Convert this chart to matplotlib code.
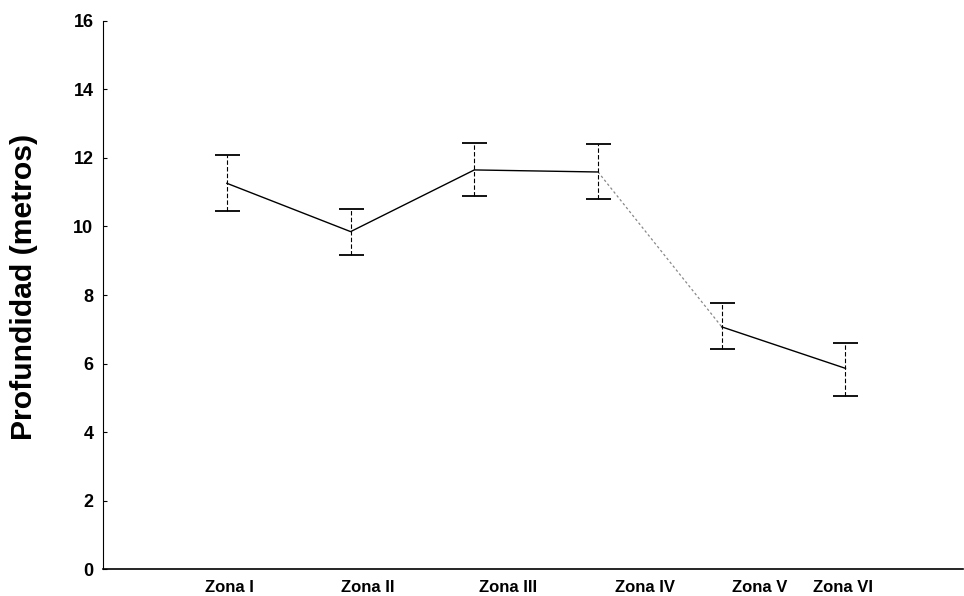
import matplotlib.pyplot as plt
import numpy as np

plt.rcParams['font.family'] = ['Liberation Sans', 'DejaVu Sans']

zonas = ['Zona I', 'Zona II', 'Zona III', 'Zona IV', 'Zona V', 'Zona VI']
media = [11.26, 9.85, 11.65, 11.59, 7.07, 5.86]
sup = [12.09, 10.50, 12.45, 12.41, 7.78, 6.59]
inf = [10.46, 9.16, 10.89, 10.80, 6.42, 5.05]

x = np.arange(len(zonas))
media = np.array(media)
err = [media - np.array(inf), np.array(sup) - media]

fig = plt.figure(figsize=(9.64, 5.96), dpi=100)
ax = fig.add_axes([0.107, 0.045, 0.892, 0.92])

# mean line; the IV -> V stretch is faint in print
ax.plot(x[:4], media[:4], color='black', lw=1.0)
ax.plot(x[3:5], media[3:5], color='#888888', lw=0.9, ls=(0, (2, 2)))
ax.plot(x[4:], media[4:], color='black', lw=1.0)

eb = ax.errorbar(x, media, yerr=err, fmt='none', ecolor='black',
                 elinewidth=0.8, capsize=9, capthick=1.3)
eb[2][0].set_linestyle((0, (4, 2)))

ax.set_xlim(-1.0, 5.95)
ax.set_ylim(0, 16)
ax.set_yticks(range(0, 17, 2))
ax.tick_params(axis='y', direction='in', length=3, width=0.8, pad=7,
               labelsize=13)
for t in ax.get_yticklabels():
    t.set_fontweight('bold')

# category labels sit slightly right of the points
lbl_pos = [0.02, 1.14, 2.27, 3.38, 4.31, 4.98]
ax.set_xticks(lbl_pos)
ax.set_xticklabels(zonas, fontsize=12, fontweight='bold')
ax.tick_params(axis='x', length=0, pad=8)

ax.set_ylabel('Profundidad (metros)', fontsize=21.7, fontweight='bold')
ax.yaxis.set_label_coords(-0.076, 0.514)

for s in ['top', 'right']:
    ax.spines[s].set_visible(False)
ax.spines['left'].set_linewidth(0.8)
ax.spines['left'].set_linestyle((0, (6, 1)))
ax.spines['bottom'].set_linewidth(1.2)

fig.savefig('out.png', dpi=100)
